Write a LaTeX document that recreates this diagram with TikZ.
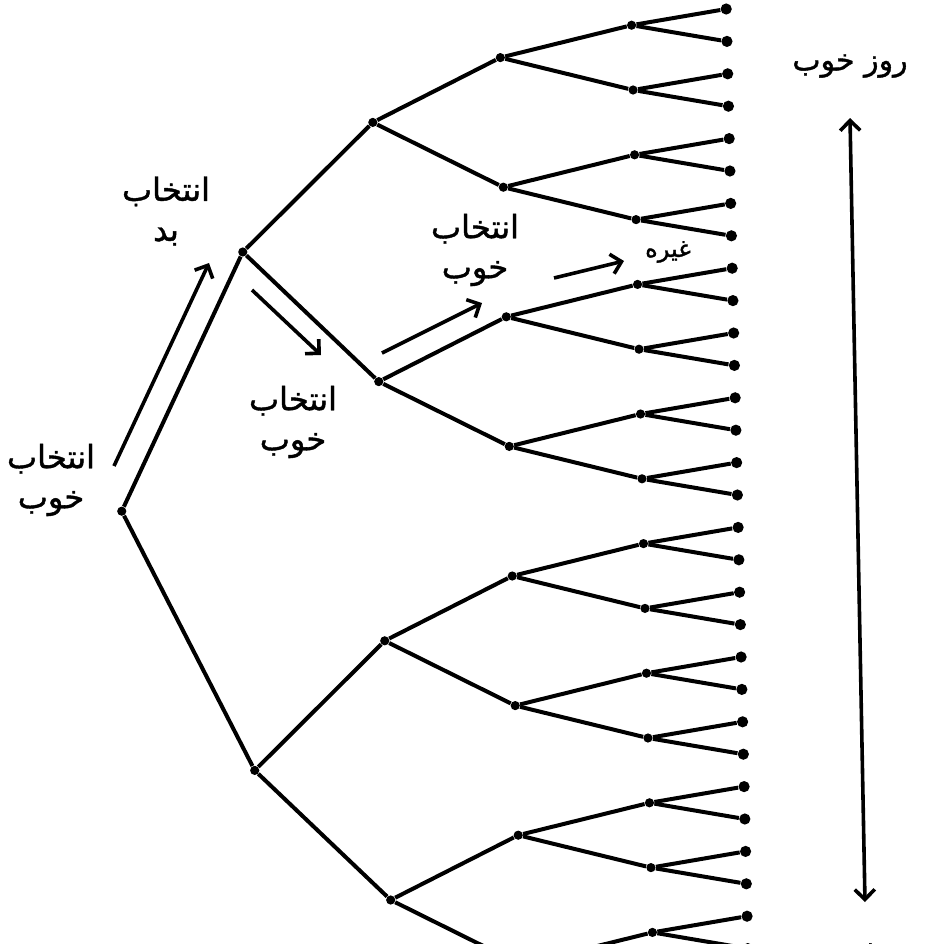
\documentclass[tikz,border=0pt]{standalone}
\usepackage{fontspec}
\newfontfamily\farsifont[Script=Arabic,FakeBold=1.3]{DejaVu Sans}
\TeXXeTstate=1
\usetikzlibrary{arrows.meta}

\tikzset{
  branch/.style={line width=2pt},
  knot/.style={circle,fill,inner sep=0pt,minimum size=4.6pt},
  leaf/.style={circle,fill,inner sep=0pt,minimum size=5.6pt},
  hint/.style={line width=1.8pt,-{Straight Barb[length=5pt,width=10pt]}},
  dayspan/.style={line width=1.8pt,{Straight Barb[length=5pt,width=10pt]}-{Straight Barb[length=5pt,width=10pt]}},
  farsitext/.style={font=\farsifont\fontsize{16}{20}\selectfont,align=center,inner sep=0pt},
}

\begin{document}
\begin{tikzpicture}[x=0.5pt,y=-0.5pt]
  \clip (0,0) rectangle (944,944);

  % The tree: each level with its x (the page is a little skewed)
  \begin{scope}[xslant=-0.023]
    \foreach \lvl/\xx in {0/110,1/237,2/370,3/499,4/631,5/726}{
      \pgfmathtruncatemacro{\last}{2^\lvl-1}
      \foreach \k in {0,...,\last}{
        \pgfmathsetmacro{\yy}{9+32.4*((\k+0.5)*2^(5-\lvl)-0.5)}
        \ifnum\lvl=5
          \node[leaf] (n-\lvl-\k) at (\xx,\yy) {};
        \else
          \node[knot] (n-\lvl-\k) at (\xx,\yy) {};
        \fi
      }
    }
    % Branches from each point to its parent
    \foreach \lvl in {1,...,5}{
      \pgfmathtruncatemacro{\up}{\lvl-1}
      \pgfmathtruncatemacro{\last}{2^\lvl-1}
      \foreach \k in {0,...,\last}{
        \pgfmathtruncatemacro{\pk}{floor(\k/2)}
        \draw[branch] (n-\up-\pk) -- (n-\lvl-\k);
      }
    }
  \end{scope}

  % Arrows along the choices
  \coordinate (u1) at (114,466); \coordinate (u2) at (209,263);
  \coordinate (d1) at (252,290); \coordinate (d2) at (321,355);
  \coordinate (g1) at (382,353); \coordinate (g2) at (482,303);
  \coordinate (e1) at (554,278); \coordinate (e2) at (624,261);
  \draw[hint] (u1) -- (u2);
  \draw[hint] (d1) -- (d2);
  \draw[hint] (g1) -- (g2);
  \draw[hint] (e1) -- (e2);

  % The span of the days
  \coordinate (top) at (850,118); \coordinate (bot) at (865,902);
  \draw[dayspan] (top) -- (bot);

  % Labels
  \node[farsitext] (pick1) at (51,480) {\beginR انتخاب\endR\\\beginR خوب\endR};
  \node[farsitext] (pick2) at (166,211) {\beginR انتخاب\endR\\\beginR بد\endR};
  \node[farsitext] (pick3) at (293,422) {\beginR انتخاب\endR\\\beginR خوب\endR};
  \node[farsitext] (pick4) at (475,250) {\beginR انتخاب\endR\\\beginR خوب\endR};
  \node[farsitext,font=\farsifont\fontsize{12}{14}\selectfont] (etc) at (668,252) {\beginR غیره\endR};
  \node[farsitext,font=\farsifont\fontsize{15}{18}\selectfont] (goodday) at (850,66) {\beginR روز خوب\endR};
  \node[farsitext,font=\farsifont\fontsize{15}{18}\selectfont] (badday) at (865,954) {\beginR روز بد\endR};
\end{tikzpicture}
\end{document}
